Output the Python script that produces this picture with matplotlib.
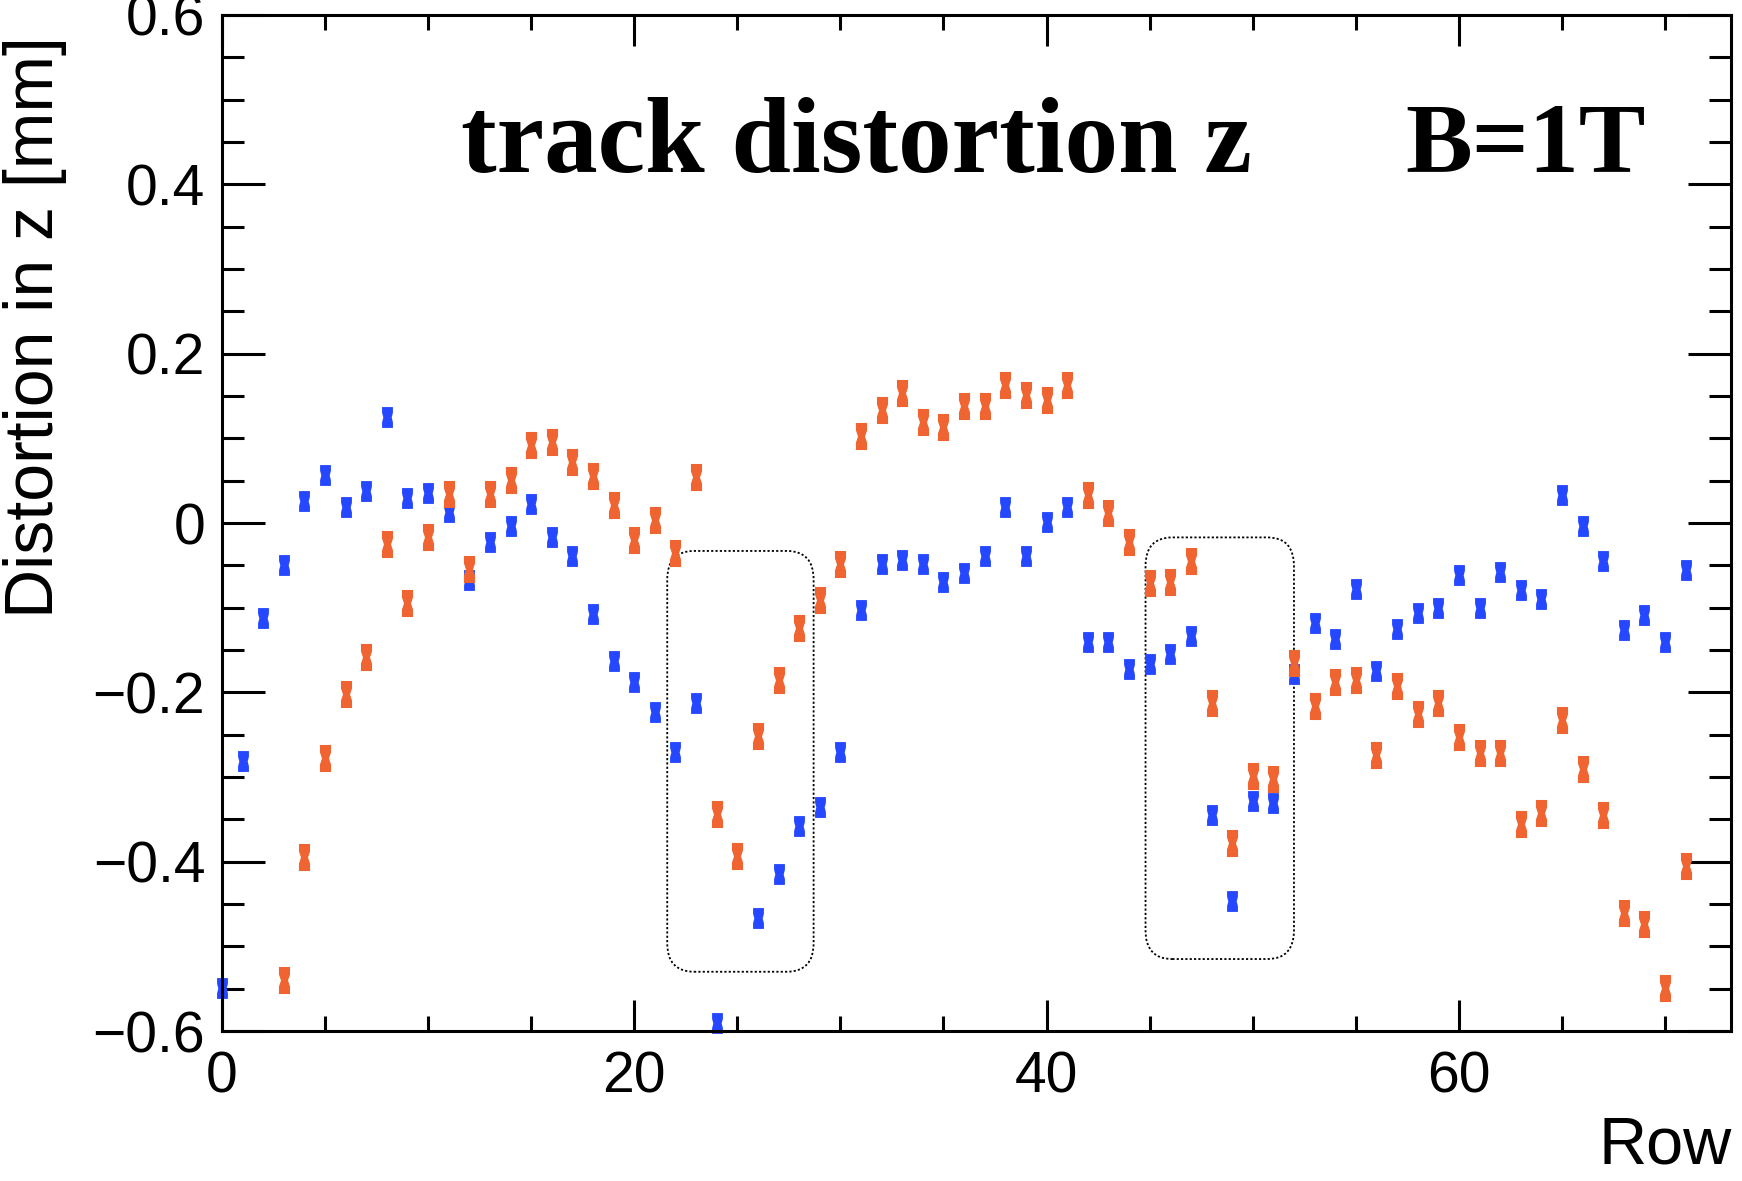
import numpy as np
import matplotlib
matplotlib.use("Agg")
import matplotlib.pyplot as plt
from matplotlib.path import Path
from matplotlib.patches import FancyBboxPatch
from matplotlib.ticker import MultipleLocator, FuncFormatter

# distortion in z per pad row, two data sets (nan = off scale)
rows = list(range(72))
dz_blue = [-0.549, -0.281, -0.112, -0.050, 0.026, 0.057, 0.019, 0.038, 0.125, 0.029,
           0.035, 0.013, -0.067, -0.022, -0.003, 0.023, -0.017, -0.039, -0.107, -0.163,
           -0.188, -0.223, -0.270, -0.212, -0.591, np.nan, -0.467, -0.415, -0.358, -0.336,
           -0.270, -0.103, -0.049, -0.044, -0.048, -0.070, -0.059, -0.039, 0.019, -0.039,
           0.001, 0.019, -0.141, -0.141, -0.173, -0.166, -0.155, -0.133, -0.345, -0.446,
           -0.328, -0.331, -0.178, -0.118, -0.137, -0.078, -0.175, -0.125, -0.106, -0.100,
           -0.062, -0.100, -0.058, -0.079, -0.090, 0.033, -0.003, -0.045, -0.126, -0.109,
           -0.141, -0.055]
dz_orange = [np.nan, np.nan, np.nan, -0.540, -0.395, -0.278, -0.202, -0.158, -0.025, -0.094,
             -0.016, 0.034, -0.054, 0.034, 0.051, 0.092, 0.096, 0.072, 0.055, 0.021,
             -0.020, 0.003, -0.036, 0.054, -0.344, -0.393, -0.252, -0.186, -0.124, -0.091,
             -0.048, 0.103, 0.134, 0.154, 0.119, 0.113, 0.138, 0.138, 0.163, 0.151,
             0.145, 0.163, 0.033, 0.012, -0.023, -0.071, -0.070, -0.045, -0.212, -0.378,
             -0.299, -0.302, -0.165, -0.216, -0.188, -0.185, -0.274, -0.192, -0.225, -0.212,
             -0.253, -0.272, -0.272, -0.356, -0.342, -0.233, -0.291, -0.345, -0.461, -0.474,
             -0.549, -0.405]

# highlighted regions: (row from, row to, dz low, dz high)
boxes = [(21.6, 28.7, -0.530, -0.033), (44.8, 52.0, -0.515, -0.017)]

title = "track distortion z"
field = "B=1T"

plt.rcParams['font.family'] = ['Liberation Sans', 'DejaVu Sans']

def errbox(hw, w):
    # small box with a waist, like the root error boxes
    v = [(-hw, -1), (hw, -1), (hw, -0.45), (w, 0), (hw, 0.45), (hw, 1),
         (-hw, 1), (-hw, 0.45), (-w, 0), (-hw, -0.45), (-hw, -1)]
    codes = [Path.MOVETO] + [Path.LINETO] * (len(v) - 2) + [Path.CLOSEPOLY]
    return Path(v, codes)

fig = plt.figure(figsize=(17.42, 11.81), dpi=100)
ax = fig.add_axes([0.1274, 0.127, 0.8663, 0.8603])

ax.plot(rows, dz_blue, ls='none', marker=errbox(0.52, 0.40), markersize=15,
        color='#2447ff', markeredgewidth=0, clip_on=False)
ax.plot(rows, dz_orange, ls='none', marker=errbox(0.41, 0.26), markersize=19.5,
        color='#ef6430', markeredgewidth=0, clip_on=False)

for x0, x1, y0, y1 in boxes:
    p = FancyBboxPatch((x0, y0), x1 - x0, y1 - y0,
                       boxstyle="round,pad=0,rounding_size=1.3",
                       mutation_aspect=0.026, fill=False, ec='black',
                       lw=1.3, ls=(0, (1.2, 1.2)))
    ax.add_patch(p)

ax.set_xlim(0, 73.2)
ax.set_ylim(-0.6, 0.6)

ax.xaxis.set_major_locator(MultipleLocator(20))
ax.xaxis.set_minor_locator(MultipleLocator(5))
ax.yaxis.set_major_locator(MultipleLocator(0.2))
ax.yaxis.set_minor_locator(MultipleLocator(0.05))

def yfmt(v, pos):
    if abs(v) < 1e-9:
        return "0"
    return ("%.1f" % v).replace("-", "\u2212")

ax.yaxis.set_major_formatter(FuncFormatter(yfmt))

ax.tick_params(axis='both', which='both', direction='in', top=True, right=True,
               width=2.2, labelsize=41, colors='black')
ax.tick_params(axis='y', which='major', length=31, pad=12)
ax.tick_params(axis='y', which='minor', length=16)
ax.tick_params(axis='x', which='major', length=22, pad=14)
ax.tick_params(axis='x', which='minor', length=11)
for s in ax.spines.values():
    s.set_linewidth(2.2)

fig.text(3 / 1742, 1 - 36 / 1181, "Distortion in z [mm]", rotation=90,
         ha='left', va='top', fontsize=49)
fig.text(1732 / 1742, 1 - 1178 / 1181, "Row", ha='right', va='bottom', fontsize=48)

fig.text(461 / 1742, 1 - 172 / 1181, title, ha='left', va='baseline',
         fontsize=77, fontweight='bold', family=['Liberation Serif', 'DejaVu Serif'])
fig.text(1405 / 1742, 1 - 172 / 1181, field, ha='left', va='baseline',
         fontsize=72, fontweight='bold', family=['Liberation Serif', 'DejaVu Serif'])

fig.savefig("out.png", dpi=100, facecolor='white')
